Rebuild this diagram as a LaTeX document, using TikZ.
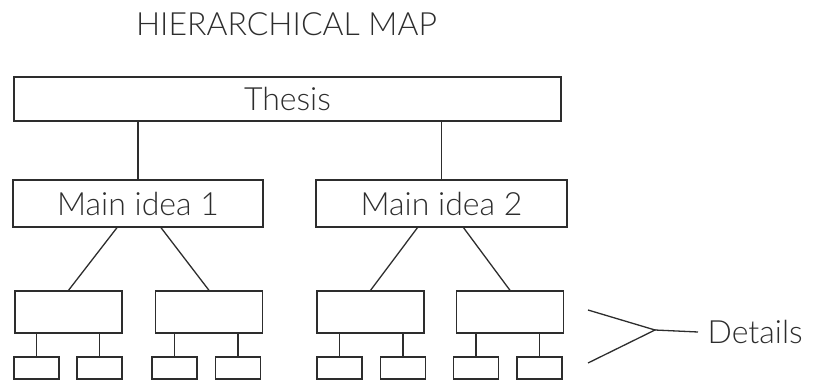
\documentclass[tikz,border=0pt]{standalone}
\usepackage{fontspec}
\usepackage{xcolor}
\setmainfont{Lato Light}
\definecolor{ink}{RGB}{45,45,45}

\begin{document}
\begin{tikzpicture}[x=1pt, y=-1pt, line width=1.3pt, draw=ink, text=ink,
    box/.style={draw=ink, rectangle, inner sep=0pt, font=\fontsize{32}{32}\selectfont},
    bigbox/.style={box, minimum width=107pt, minimum height=42pt},
    smallbox/.style={box, minimum width=45pt, minimum height=22pt}]

    \useasboundingbox (0,0) rectangle (816,382);

    % Title
    \node[font=\fontsize{32}{32}\selectfont] (title) at (286.5,24) {HIERARCHICAL MAP};

    % Thesis and main ideas
    \node[box, minimum width=547pt, minimum height=44pt] (thesis) at (287.5,99) {Thesis};
    \node[box, minimum width=250pt, minimum height=47pt] (main1) at (138,203.5) {Main idea 1};
    \node[box, minimum width=251pt, minimum height=47pt] (main2) at (441.5,203.5) {Main idea 2};

    \draw (main1.north) -- (main1.north |- thesis.south);
    \draw (main2.north) -- (main2.north |- thesis.south);

    % Detail boxes
    \node[bigbox] (det1) at (68.5,312) {};
    \node[bigbox] (det2) at (209,312) {};
    \node[bigbox] (det3) at (370.5,312) {};
    \node[bigbox] (det4) at (510,312) {};

    \draw ([xshift=-21pt]main1.south) -- (det1.north);
    \draw ([xshift=23pt]main1.south) -- (det2.north);
    \draw ([xshift=-24pt]main2.south) -- (det3.north);
    \draw ([xshift=22pt]main2.south) -- (det4.north);

    % Small boxes under each detail
    \foreach \i/\x/\p in {1/36.5/det1, 2/99.5/det1, 3/174.5/det2, 4/238/det2,
                          5/339.5/det3, 6/403/det3, 7/476/det4, 8/539.5/det4} {
        \node[smallbox] (sub\i) at (\x,368) {};
        \draw (sub\i.north) -- (sub\i.north |- \p.south);
    }

    % Details bracket
    \coordinate (tip) at (655,330);
    \coordinate (armtop) at (588,310);
    \coordinate (armbot) at (588,363);
    \node[anchor=west, inner xsep=9pt, inner ysep=0pt, font=\fontsize{32}{32}\selectfont] (details) at (698,332) {Details};

    \draw (armtop) -- (tip) -- (armbot);
    \draw (tip) -- (details.west);

\end{tikzpicture}
\end{document}
